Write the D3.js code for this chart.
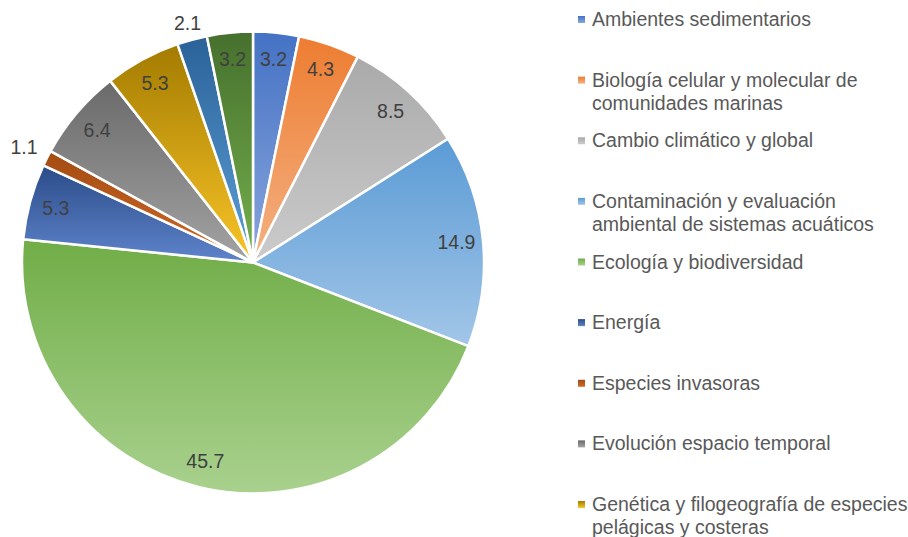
<!DOCTYPE html>
<html>
<head>
<meta charset="utf-8">
<script type="text/javascript" src="https://cdn.jsdelivr.net/npm/d3@7"></script>
<style>
  body { margin: 0; background: #fff; }
  text { font-family: "Liberation Sans", Arial, sans-serif; }
</style>
</head>
<body>
<div id="chart"></div>
<script type="text/javascript">
// data (last two legend names are cut off in the reference)
var categories = [
  "Ambientes sedimentarios",
  "Biología celular y molecular de|comunidades marinas",
  "Cambio climático y global",
  "Contaminación y evaluación|ambiental de sistemas acuáticos",
  "Ecología y biodiversidad",
  "Energía",
  "Especies invasoras",
  "Evolución espacio temporal",
  "Genética y filogeografía de especies|pelágicas y costeras",
  "Oceanografía",
  "Pesquerías"
];
var values = [3.2, 4.3, 8.5, 14.9, 45.7, 5.3, 1.1, 6.4, 5.3, 2.1, 3.2];

var topColors    = ["#4472C4", "#ED7D31", "#AAAAAA", "#5B9BD5", "#70AD47", "#2B4C88", "#A24C12", "#6A6A6A", "#A37B00", "#2A6298", "#46702E"];
var bottomColors = ["#8AA6DC", "#F4B183", "#CBCBCB", "#A2C6E8", "#A9D18E", "#5F84CC", "#D2692A", "#A3A3A3", "#FAC528", "#5E9FD8", "#75B04C"];

var width = 908, height = 537;
var cx = 253, cy = 262.5, R = 231;

var svg = d3.select("#chart").append("svg")
    .attr("width", width)
    .attr("height", height);

var defs = svg.append("defs");
values.forEach(function(v, i) {
  var g = defs.append("linearGradient")
      .attr("id", "grad" + i)
      .attr("x1", 0).attr("y1", 0).attr("x2", 0).attr("y2", 1);
  g.append("stop").attr("offset", "0%").attr("stop-color", topColors[i]);
  g.append("stop").attr("offset", "100%").attr("stop-color", bottomColors[i]);
});

var pie = d3.pie().sort(null).value(function(d) { return d; });
var arcs = pie(values);
var arc = d3.arc().innerRadius(0).outerRadius(R);
var labelArc = d3.arc().innerRadius(R * 0.885).outerRadius(R * 0.885);

var g = svg.append("g").attr("transform", "translate(" + cx + "," + cy + ")");

g.selectAll("path").data(arcs).enter().append("path")
    .attr("d", arc)
    .attr("fill", function(d, i) { return "url(#grad" + i + ")"; })
    .attr("stroke", "#fff")
    .attr("stroke-width", 2.5)
    .attr("stroke-linejoin", "round");

g.selectAll("text.lbl").data(arcs).enter().append("text")
    .attr("class", "lbl")
    .attr("font-size", 19.5)
    .attr("fill", "#404040")
    .attr("text-anchor", "middle")
    .attr("dy", "0.35em")
    .attr("transform", function(d) {
      if (d.value >= 3) return "translate(" + labelArc.centroid(d) + ")";
      var a = (d.startAngle + d.endAngle) / 2;
      var r = R + 14 + 13 * Math.abs(Math.sin(a));
      return "translate(" + (r * Math.sin(a)) + "," + (-r * Math.cos(a)) + ")";
    })
    .text(function(d) { return d.value.toFixed(1); });

// legend
var legend = svg.append("g").attr("transform", "translate(578,0)");
var rowY = d3.scaleLinear().domain([0, 8]).range([26, 511]);

var item = legend.selectAll("g.item").data(categories).enter().append("g")
    .attr("class", "item")
    .attr("transform", function(d, i) { return "translate(0," + rowY(i) + ")"; });

item.append("rect")
    .attr("x", 0).attr("y", -10)
    .attr("width", 7).attr("height", 7)
    .attr("fill", function(d, i) { return "url(#grad" + i + ")"; });

item.append("text")
    .attr("x", 14)
    .attr("font-size", 19.5)
    .attr("fill", "#595959")
    .each(function(d) {
      var t = d3.select(this);
      d.split("|").forEach(function(line, j) {
        t.append("tspan").attr("x", 14).attr("y", j * 23).text(line);
      });
    });
</script>
</body>
</html>
